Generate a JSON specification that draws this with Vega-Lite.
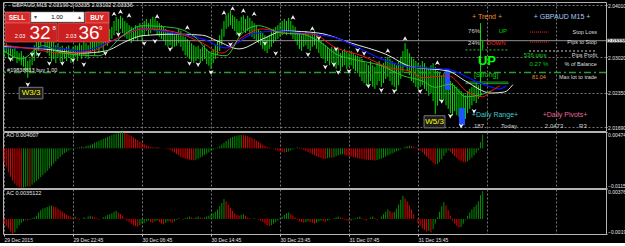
{
"$schema":"https://vega.github.io/schema/vega-lite/v6.json",
"background":"#000000",
"padding":{"left":1,"top":1,"right":0,"bottom":0},
"spacing":1,
"bounds":"flush",
"config":{"view":{"stroke":"#b4b4b4","strokeWidth":1},"font":"Liberation Sans","axis":{"domain":false,"labelOverlap":false,"labelSeparation":-200,"labelColor":"#e6e6e6","labelFont":"Liberation Sans","labelFontSize":5,"tickColor":"#c8c8c8","tickSize":1,"labelPadding":0.5,"gridColor":"#8c8c8c","gridDash":[2,2],"gridWidth":1,"gridOpacity":0.85}},
"datasets":{
"bars":[
{"i":0,"h":2.0325,"l":2.0303,"ao":-0.0040,"ac":-0.0006},
{"i":1,"h":2.0329,"l":2.0310,"ao":-0.0055,"ac":-0.0009},
{"i":2,"h":2.0322,"l":2.0299,"ao":-0.0070,"ac":-0.0012},
{"i":3,"h":2.0324,"l":2.0305,"ao":-0.0083,"ac":-0.0016},
{"i":4,"h":2.0318,"l":2.0295,"ao":-0.0094,"ac":-0.0019},
{"i":5,"h":2.0320,"l":2.0301,"ao":-0.0103,"ac":-0.0017},
{"i":6,"h":2.0314,"l":2.0291,"ao":-0.0109,"ac":-0.0012},
{"i":7,"h":2.0310,"l":2.0295,"ao":-0.0113,"ac":-0.0008},
{"i":8,"h":2.0314,"l":2.0287,"ao":-0.0115,"ac":-0.0005},
{"i":9,"h":2.0305,"l":2.0284,"ao":-0.0114,"ac":-0.0003},
{"i":10,"h":2.0303,"l":2.0276,"ao":-0.0112,"ac":-0.0001},
{"i":11,"h":2.0295,"l":2.0263,"ao":-0.0111,"ac":-0.0002},
{"i":12,"h":2.0299,"l":2.0272,"ao":-0.0112,"ac":-0.0001},
{"i":13,"h":2.0314,"l":2.0287,"ao":-0.0106,"ac":0.0001},
{"i":14,"h":2.0325,"l":2.0295,"ao":-0.0100,"ac":0.0002},
{"i":15,"h":2.0337,"l":2.0305,"ao":-0.0095,"ac":0.0004},
{"i":16,"h":2.0352,"l":2.0314,"ao":-0.0090,"ac":0.0008},
{"i":17,"h":2.0362,"l":2.0324,"ao":-0.0084,"ac":0.0011},
{"i":18,"h":2.0367,"l":2.0333,"ao":-0.0078,"ac":0.0013},
{"i":19,"h":2.0360,"l":2.0318,"ao":-0.0072,"ac":0.0014},
{"i":20,"h":2.0352,"l":2.0310,"ao":-0.0066,"ac":0.0015},
{"i":21,"h":2.0343,"l":2.0305,"ao":-0.0059,"ac":0.0016},
{"i":22,"h":2.0337,"l":2.0295,"ao":-0.0052,"ac":0.0017},
{"i":23,"h":2.0333,"l":2.0299,"ao":-0.0045,"ac":0.0016},
{"i":24,"h":2.0325,"l":2.0291,"ao":-0.0038,"ac":0.0015},
{"i":25,"h":2.0329,"l":2.0303,"ao":-0.0031,"ac":0.0013},
{"i":26,"h":2.0322,"l":2.0295,"ao":-0.0025,"ac":0.0011},
{"i":27,"h":2.0324,"l":2.0291,"ao":-0.0019,"ac":0.0009},
{"i":28,"h":2.0318,"l":2.0299,"ao":-0.0014,"ac":0.0007},
{"i":29,"h":2.0322,"l":2.0295,"ao":-0.0010,"ac":0.0005},
{"i":30,"h":2.0325,"l":2.0301,"ao":-0.0006,"ac":0.0004},
{"i":31,"h":2.0318,"l":2.0291,"ao":-0.0003,"ac":0.0003},
{"i":32,"h":2.0322,"l":2.0299,"ao":-0.0001,"ac":0.0002},
{"i":33,"h":2.0325,"l":2.0303,"ao":0.0001,"ac":0.0003},
{"i":34,"h":2.0324,"l":2.0295,"ao":0.0002,"ac":0.0001},
{"i":35,"h":2.0329,"l":2.0305,"ao":0.0003,"ac":-0.0001},
{"i":36,"h":2.0325,"l":2.0299,"ao":0.0005,"ac":0.0000},
{"i":37,"h":2.0333,"l":2.0306,"ao":0.0004,"ac":0.0002},
{"i":38,"h":2.0329,"l":2.0303,"ao":0.0006,"ac":0.0001},
{"i":39,"h":2.0325,"l":2.0299,"ao":0.0008,"ac":0.0003},
{"i":40,"h":2.0333,"l":2.0310,"ao":0.0010,"ac":0.0004},
{"i":41,"h":2.0337,"l":2.0314,"ao":0.0013,"ac":0.0003},
{"i":42,"h":2.0333,"l":2.0306,"ao":0.0016,"ac":0.0002},
{"i":43,"h":2.0341,"l":2.0318,"ao":0.0019,"ac":0.0001},
{"i":44,"h":2.0337,"l":2.0310,"ao":0.0022,"ac":-0.0001},
{"i":45,"h":2.0344,"l":2.0322,"ao":0.0025,"ac":0.0000},
{"i":46,"h":2.0341,"l":2.0314,"ao":0.0028,"ac":0.0002},
{"i":47,"h":2.0348,"l":2.0325,"ao":0.0030,"ac":0.0003},
{"i":48,"h":2.0352,"l":2.0324,"ao":0.0033,"ac":0.0005},
{"i":49,"h":2.0356,"l":2.0333,"ao":0.0036,"ac":0.0006},
{"i":50,"h":2.0360,"l":2.0337,"ao":0.0039,"ac":0.0007},
{"i":51,"h":2.0371,"l":2.0344,"ao":0.0041,"ac":0.0009},
{"i":52,"h":2.0379,"l":2.0352,"ao":0.0043,"ac":0.0010},
{"i":53,"h":2.0375,"l":2.0348,"ao":0.0045,"ac":0.0008},
{"i":54,"h":2.0381,"l":2.0356,"ao":0.0046,"ac":0.0006},
{"i":55,"h":2.0377,"l":2.0348,"ao":0.0047,"ac":0.0004},
{"i":56,"h":2.0371,"l":2.0341,"ao":0.0045,"ac":0.0001},
{"i":57,"h":2.0367,"l":2.0337,"ao":0.0042,"ac":-0.0002},
{"i":58,"h":2.0363,"l":2.0333,"ao":0.0039,"ac":-0.0004},
{"i":59,"h":2.0360,"l":2.0329,"ao":0.0036,"ac":-0.0006},
{"i":60,"h":2.0356,"l":2.0333,"ao":0.0032,"ac":-0.0008},
{"i":61,"h":2.0363,"l":2.0337,"ao":0.0028,"ac":-0.0009},
{"i":62,"h":2.0360,"l":2.0333,"ao":0.0024,"ac":-0.0010},
{"i":63,"h":2.0367,"l":2.0341,"ao":0.0020,"ac":-0.0008},
{"i":64,"h":2.0362,"l":2.0333,"ao":0.0016,"ac":-0.0006},
{"i":65,"h":2.0371,"l":2.0344,"ao":0.0012,"ac":-0.0005},
{"i":66,"h":2.0375,"l":2.0352,"ao":0.0009,"ac":-0.0003},
{"i":67,"h":2.0367,"l":2.0344,"ao":0.0006,"ac":-0.0002},
{"i":68,"h":2.0375,"l":2.0348,"ao":0.0004,"ac":-0.0004},
{"i":69,"h":2.0379,"l":2.0356,"ao":0.0003,"ac":-0.0005},
{"i":70,"h":2.0375,"l":2.0352,"ao":0.0002,"ac":-0.0003},
{"i":71,"h":2.0371,"l":2.0344,"ao":0.0003,"ac":-0.0002},
{"i":72,"h":2.0367,"l":2.0341,"ao":0.0002,"ac":-0.0004},
{"i":73,"h":2.0363,"l":2.0337,"ao":0.0001,"ac":-0.0006},
{"i":74,"h":2.0360,"l":2.0333,"ao":0.0000,"ac":-0.0007},
{"i":75,"h":2.0356,"l":2.0325,"ao":-0.0001,"ac":-0.0005},
{"i":76,"h":2.0352,"l":2.0322,"ao":-0.0002,"ac":-0.0003},
{"i":77,"h":2.0348,"l":2.0325,"ao":-0.0005,"ac":-0.0004},
{"i":78,"h":2.0352,"l":2.0318,"ao":-0.0009,"ac":-0.0005},
{"i":79,"h":2.0344,"l":2.0322,"ao":-0.0013,"ac":-0.0003},
{"i":80,"h":2.0348,"l":2.0324,"ao":-0.0017,"ac":-0.0001},
{"i":81,"h":2.0356,"l":2.0329,"ao":-0.0021,"ac":0.0001},
{"i":82,"h":2.0352,"l":2.0322,"ao":-0.0025,"ac":0.0000},
{"i":83,"h":2.0344,"l":2.0314,"ao":-0.0028,"ac":-0.0001},
{"i":84,"h":2.0341,"l":2.0306,"ao":-0.0030,"ac":0.0001},
{"i":85,"h":2.0337,"l":2.0303,"ao":-0.0032,"ac":0.0002},
{"i":86,"h":2.0333,"l":2.0299,"ao":-0.0033,"ac":0.0003},
{"i":87,"h":2.0329,"l":2.0295,"ao":-0.0034,"ac":0.0002},
{"i":88,"h":2.0325,"l":2.0291,"ao":-0.0035,"ac":0.0001},
{"i":89,"h":2.0322,"l":2.0295,"ao":-0.0033,"ac":0.0002},
{"i":90,"h":2.0324,"l":2.0299,"ao":-0.0030,"ac":0.0003},
{"i":91,"h":2.0318,"l":2.0291,"ao":-0.0027,"ac":0.0002},
{"i":92,"h":2.0322,"l":2.0295,"ao":-0.0024,"ac":0.0001},
{"i":93,"h":2.0325,"l":2.0299,"ao":-0.0020,"ac":0.0002},
{"i":94,"h":2.0318,"l":2.0289,"ao":-0.0016,"ac":0.0003},
{"i":95,"h":2.0314,"l":2.0286,"ao":-0.0012,"ac":0.0004},
{"i":96,"h":2.0310,"l":2.0280,"ao":-0.0008,"ac":0.0005},
{"i":97,"h":2.0318,"l":2.0291,"ao":-0.0004,"ac":0.0007},
{"i":98,"h":2.0325,"l":2.0299,"ao":-0.0001,"ac":0.0009},
{"i":99,"h":2.0333,"l":2.0306,"ao":0.0002,"ac":0.0012},
{"i":100,"h":2.0344,"l":2.0314,"ao":0.0006,"ac":0.0016},
{"i":101,"h":2.0356,"l":2.0325,"ao":0.0011,"ac":0.0020},
{"i":102,"h":2.0371,"l":2.0341,"ao":0.0016,"ac":0.0025},
{"i":103,"h":2.0382,"l":2.0356,"ao":0.0021,"ac":0.0022},
{"i":104,"h":2.0386,"l":2.0360,"ao":0.0026,"ac":0.0018},
{"i":105,"h":2.0390,"l":2.0363,"ao":0.0030,"ac":0.0014},
{"i":106,"h":2.0382,"l":2.0356,"ao":0.0033,"ac":0.0010},
{"i":107,"h":2.0379,"l":2.0352,"ao":0.0035,"ac":0.0007},
{"i":108,"h":2.0375,"l":2.0344,"ao":0.0037,"ac":0.0005},
{"i":109,"h":2.0371,"l":2.0343,"ao":0.0038,"ac":0.0004},
{"i":110,"h":2.0379,"l":2.0348,"ao":0.0039,"ac":0.0005},
{"i":111,"h":2.0382,"l":2.0352,"ao":0.0038,"ac":0.0006},
{"i":112,"h":2.0375,"l":2.0348,"ao":0.0037,"ac":0.0004},
{"i":113,"h":2.0381,"l":2.0352,"ao":0.0035,"ac":0.0002},
{"i":114,"h":2.0377,"l":2.0344,"ao":0.0033,"ac":0.0001},
{"i":115,"h":2.0371,"l":2.0341,"ao":0.0030,"ac":0.0000},
{"i":116,"h":2.0367,"l":2.0337,"ao":0.0027,"ac":0.0001},
{"i":117,"h":2.0363,"l":2.0333,"ao":0.0023,"ac":0.0000},
{"i":118,"h":2.0356,"l":2.0329,"ao":0.0019,"ac":-0.0001},
{"i":119,"h":2.0352,"l":2.0325,"ao":0.0015,"ac":-0.0002},
{"i":120,"h":2.0348,"l":2.0318,"ao":0.0011,"ac":-0.0004},
{"i":121,"h":2.0344,"l":2.0314,"ao":0.0007,"ac":-0.0006},
{"i":122,"h":2.0341,"l":2.0310,"ao":0.0004,"ac":-0.0008},
{"i":123,"h":2.0344,"l":2.0318,"ao":0.0002,"ac":-0.0009},
{"i":124,"h":2.0352,"l":2.0322,"ao":0.0001,"ac":-0.0008},
{"i":125,"h":2.0356,"l":2.0329,"ao":-0.0001,"ac":-0.0006},
{"i":126,"h":2.0360,"l":2.0333,"ao":-0.0004,"ac":-0.0004},
{"i":127,"h":2.0363,"l":2.0337,"ao":-0.0007,"ac":-0.0002},
{"i":128,"h":2.0367,"l":2.0341,"ao":-0.0009,"ac":0.0001},
{"i":129,"h":2.0371,"l":2.0344,"ao":-0.0011,"ac":0.0003},
{"i":130,"h":2.0375,"l":2.0348,"ao":-0.0012,"ac":0.0005},
{"i":131,"h":2.0371,"l":2.0344,"ao":-0.0011,"ac":0.0007},
{"i":132,"h":2.0377,"l":2.0352,"ao":-0.0009,"ac":0.0008},
{"i":133,"h":2.0371,"l":2.0344,"ao":-0.0006,"ac":0.0006},
{"i":134,"h":2.0363,"l":2.0337,"ao":-0.0003,"ac":0.0004},
{"i":135,"h":2.0360,"l":2.0333,"ao":0.0001,"ac":0.0002},
{"i":136,"h":2.0352,"l":2.0325,"ao":0.0003,"ac":-0.0001},
{"i":137,"h":2.0348,"l":2.0318,"ao":0.0002,"ac":-0.0003},
{"i":138,"h":2.0344,"l":2.0314,"ao":-0.0002,"ac":-0.0004},
{"i":139,"h":2.0348,"l":2.0322,"ao":-0.0005,"ac":-0.0005},
{"i":140,"h":2.0352,"l":2.0325,"ao":-0.0008,"ac":-0.0004},
{"i":141,"h":2.0348,"l":2.0318,"ao":-0.0011,"ac":-0.0003},
{"i":142,"h":2.0344,"l":2.0314,"ao":-0.0014,"ac":-0.0004},
{"i":143,"h":2.0348,"l":2.0322,"ao":-0.0017,"ac":-0.0005},
{"i":144,"h":2.0352,"l":2.0325,"ao":-0.0020,"ac":-0.0006},
{"i":145,"h":2.0344,"l":2.0318,"ao":-0.0023,"ac":-0.0005},
{"i":146,"h":2.0337,"l":2.0310,"ao":-0.0026,"ac":-0.0003},
{"i":147,"h":2.0333,"l":2.0303,"ao":-0.0028,"ac":-0.0002},
{"i":148,"h":2.0329,"l":2.0299,"ao":-0.0030,"ac":-0.0003},
{"i":149,"h":2.0325,"l":2.0291,"ao":-0.0031,"ac":-0.0004},
{"i":150,"h":2.0322,"l":2.0295,"ao":-0.0029,"ac":-0.0002},
{"i":151,"h":2.0318,"l":2.0287,"ao":-0.0027,"ac":-0.0001},
{"i":152,"h":2.0322,"l":2.0291,"ao":-0.0028,"ac":0.0000},
{"i":153,"h":2.0318,"l":2.0284,"ao":-0.0026,"ac":0.0001},
{"i":154,"h":2.0314,"l":2.0280,"ao":-0.0023,"ac":0.0002},
{"i":155,"h":2.0318,"l":2.0287,"ao":-0.0020,"ac":0.0003},
{"i":156,"h":2.0310,"l":2.0276,"ao":-0.0018,"ac":0.0002},
{"i":157,"h":2.0314,"l":2.0284,"ao":-0.0017,"ac":0.0001},
{"i":158,"h":2.0318,"l":2.0287,"ao":-0.0019,"ac":-0.0001},
{"i":159,"h":2.0314,"l":2.0280,"ao":-0.0021,"ac":-0.0002},
{"i":160,"h":2.0310,"l":2.0284,"ao":-0.0023,"ac":-0.0003},
{"i":161,"h":2.0314,"l":2.0287,"ao":-0.0024,"ac":-0.0002},
{"i":162,"h":2.0310,"l":2.0280,"ao":-0.0026,"ac":-0.0001},
{"i":163,"h":2.0306,"l":2.0276,"ao":-0.0027,"ac":0.0001},
{"i":164,"h":2.0305,"l":2.0272,"ao":-0.0029,"ac":0.0002},
{"i":165,"h":2.0303,"l":2.0265,"ao":-0.0030,"ac":0.0003},
{"i":166,"h":2.0299,"l":2.0257,"ao":-0.0031,"ac":0.0001},
{"i":167,"h":2.0295,"l":2.0253,"ao":-0.0032,"ac":-0.0001},
{"i":168,"h":2.0291,"l":2.0248,"ao":-0.0033,"ac":-0.0002},
{"i":169,"h":2.0287,"l":2.0249,"ao":-0.00335,"ac":0.0000},
{"i":170,"h":2.0295,"l":2.0257,"ao":-0.0034,"ac":0.0002},
{"i":171,"h":2.0287,"l":2.0246,"ao":-0.0035,"ac":0.0003},
{"i":172,"h":2.0284,"l":2.0242,"ao":-0.00355,"ac":0.0001},
{"i":173,"h":2.0291,"l":2.0249,"ao":-0.0034,"ac":-0.0001},
{"i":174,"h":2.0295,"l":2.0257,"ao":-0.0032,"ac":0.0000},
{"i":175,"h":2.0287,"l":2.0246,"ao":-0.0030,"ac":0.0003},
{"i":176,"h":2.0291,"l":2.0253,"ao":-0.0027,"ac":0.0006},
{"i":177,"h":2.0299,"l":2.0261,"ao":-0.0024,"ac":0.0009},
{"i":178,"h":2.0303,"l":2.0265,"ao":-0.0021,"ac":0.0012},
{"i":179,"h":2.0299,"l":2.0257,"ao":-0.0018,"ac":0.0010},
{"i":180,"h":2.0295,"l":2.0249,"ao":-0.0015,"ac":0.0008},
{"i":181,"h":2.0291,"l":2.0246,"ao":-0.0012,"ac":0.0009},
{"i":182,"h":2.0287,"l":2.0238,"ao":-0.0009,"ac":0.0013},
{"i":183,"h":2.0295,"l":2.0249,"ao":-0.0006,"ac":0.0018},
{"i":184,"h":2.0303,"l":2.0261,"ao":-0.0003,"ac":0.0024},
{"i":185,"h":2.0314,"l":2.0272,"ao":0.0001,"ac":0.0029},
{"i":186,"h":2.0329,"l":2.0284,"ao":0.0004,"ac":0.0026},
{"i":187,"h":2.0318,"l":2.0276,"ao":0.0006,"ac":0.0022},
{"i":188,"h":2.0310,"l":2.0268,"ao":0.0008,"ac":0.0017},
{"i":189,"h":2.0303,"l":2.0257,"ao":0.0007,"ac":0.0012},
{"i":190,"h":2.0299,"l":2.0253,"ao":0.0005,"ac":0.0006},
{"i":191,"h":2.0295,"l":2.0246,"ao":0.0002,"ac":0.0000},
{"i":192,"h":2.0291,"l":2.0242,"ao":-0.0002,"ac":-0.0005},
{"i":193,"h":2.0287,"l":2.0246,"ao":-0.0007,"ac":-0.0009},
{"i":194,"h":2.0295,"l":2.0249,"ao":-0.0012,"ac":-0.0012},
{"i":195,"h":2.0291,"l":2.0242,"ao":-0.0018,"ac":-0.0014},
{"i":196,"h":2.0284,"l":2.0238,"ao":-0.0024,"ac":-0.0016},
{"i":197,"h":2.0280,"l":2.0229,"ao":-0.0030,"ac":-0.0015},
{"i":198,"h":2.0287,"l":2.0234,"ao":-0.0036,"ac":-0.0017},
{"i":199,"h":2.0291,"l":2.0219,"ao":-0.0042,"ac":-0.0013},
{"i":200,"h":2.0284,"l":2.0194,"ao":-0.0047,"ac":-0.0006},
{"i":201,"h":2.0276,"l":2.0210,"ao":-0.0045,"ac":0.0002},
{"i":202,"h":2.0272,"l":2.0219,"ao":-0.0040,"ac":0.0009},
{"i":203,"h":2.0268,"l":2.0215,"ao":-0.0032,"ac":0.0016},
{"i":204,"h":2.0272,"l":2.0223,"ao":-0.0022,"ac":0.0021},
{"i":205,"h":2.0265,"l":2.0211,"ao":-0.0013,"ac":0.0017},
{"i":206,"h":2.0261,"l":2.0204,"ao":-0.0006,"ac":0.0011},
{"i":207,"h":2.0257,"l":2.0196,"ao":-0.0010,"ac":0.0004},
{"i":208,"h":2.0253,"l":2.0191,"ao":-0.0016,"ac":-0.0002},
{"i":209,"h":2.0249,"l":2.0200,"ao":-0.0022,"ac":-0.0006},
{"i":210,"h":2.0246,"l":2.0192,"ao":-0.0028,"ac":-0.0009},
{"i":211,"h":2.0242,"l":2.0189,"ao":-0.0033,"ac":-0.0011},
{"i":212,"h":2.0238,"l":2.0181,"ao":-0.0037,"ac":-0.0010},
{"i":213,"h":2.0234,"l":2.0177,"ao":-0.0040,"ac":-0.0006},
{"i":214,"h":2.0230,"l":2.0185,"ao":-0.0041,"ac":-0.0001},
{"i":215,"h":2.0238,"l":2.0196,"ao":-0.0038,"ac":0.0004},
{"i":216,"h":2.0242,"l":2.0204,"ao":-0.0033,"ac":0.0008},
{"i":217,"h":2.0246,"l":2.0211,"ao":-0.0027,"ac":0.0012},
{"i":218,"h":2.0249,"l":2.0219,"ao":-0.0020,"ac":0.0015},
{"i":219,"h":2.0253,"l":2.0215,"ao":-0.0013,"ac":0.0018},
{"i":220,"h":2.0249,"l":2.0223,"ao":-0.0005,"ac":0.0022},
{"i":221,"h":2.0367,"l":2.0229,"ao":0.0018,"ac":0.0030},
{"i":222,"h":2.0333,"l":2.0318,"ao":0.0040,"ac":0.0035}
],
"ma":[
{"s":"w","i":0,"p":2.0322},{"s":"w","i":18,"p":2.0318},{"s":"w","i":36,"p":2.0310},{"s":"w","i":47,"p":2.0314},{"s":"w","i":57,"p":2.0333},{"s":"w","i":64,"p":2.0343},{"s":"w","i":80,"p":2.0346},{"s":"w","i":92,"p":2.0344},{"s":"w","i":99,"p":2.0333},{"s":"w","i":109,"p":2.0318},{"s":"w","i":120,"p":2.0337},{"s":"w","i":130,"p":2.0352},{"s":"w","i":146,"p":2.0348},{"s":"w","i":161,"p":2.0329},{"s":"w","i":177,"p":2.0308},{"s":"w","i":189,"p":2.0284},{"s":"w","i":206,"p":2.0276},{"s":"w","i":214,"p":2.0257},{"s":"w","i":226,"p":2.0234},{"s":"w","i":232,"p":2.0236},{"s":"w","i":236,"p":2.0250},
{"s":"b","i":0,"p":2.0320},{"s":"b","i":24,"p":2.0320},{"s":"b","i":36,"p":2.0314},{"s":"b","i":50,"p":2.0333},{"s":"b","i":64,"p":2.0356},{"s":"b","i":79,"p":2.0348},{"s":"b","i":92,"p":2.0337},{"s":"b","i":103,"p":2.0320},{"s":"b","i":115,"p":2.0346},{"s":"b","i":126,"p":2.0352},{"s":"b","i":143,"p":2.0346},{"s":"b","i":154,"p":2.0339},{"s":"b","i":161,"p":2.0327},{"s":"b","i":175,"p":2.0299},{"s":"b","i":185,"p":2.0286},{"s":"b","i":195,"p":2.0282},{"s":"b","i":205,"p":2.0280},{"s":"b","i":222,"p":2.0251},{"s":"b","i":230,"p":2.0242},{"s":"b","i":233,"p":2.0248},
{"s":"r","i":0,"p":2.0325},{"s":"r","i":13,"p":2.0318},{"s":"r","i":27,"p":2.0310},{"s":"r","i":41,"p":2.0314},{"s":"r","i":50,"p":2.0333},{"s":"r","i":65,"p":2.0356},{"s":"r","i":77,"p":2.0352},{"s":"r","i":92,"p":2.0329},{"s":"r","i":101,"p":2.0310},{"s":"r","i":110,"p":2.0339},{"s":"r","i":120,"p":2.0356},{"s":"r","i":130,"p":2.0348},{"s":"r","i":143,"p":2.0346},{"s":"r","i":154,"p":2.0320},{"s":"r","i":166,"p":2.0305},{"s":"r","i":179,"p":2.0282},{"s":"r","i":188,"p":2.0276},{"s":"r","i":194,"p":2.0263},{"s":"r","i":206,"p":2.0267},{"s":"r","i":215,"p":2.0236},{"s":"r","i":222,"p":2.0227},{"s":"r","i":226,"p":2.0238},{"s":"r","i":230,"p":2.0248},
{"s":"g","i":0,"p":2.0314},{"s":"g","i":8,"p":2.0299},{"s":"g","i":18,"p":2.0324},{"s":"g","i":27,"p":2.0310},{"s":"g","i":44,"p":2.0305},{"s":"g","i":55,"p":2.0343},{"s":"g","i":64,"p":2.0362},{"s":"g","i":79,"p":2.0358},{"s":"g","i":89,"p":2.0339},{"s":"g","i":96,"p":2.0310},{"s":"g","i":103,"p":2.0305},{"s":"g","i":110,"p":2.0346},{"s":"g","i":118,"p":2.0362},{"s":"g","i":129,"p":2.0348},{"s":"g","i":138,"p":2.0346},{"s":"g","i":148,"p":2.0327},{"s":"g","i":154,"p":2.0308},{"s":"g","i":161,"p":2.0299},{"s":"g","i":175,"p":2.0286},{"s":"g","i":185,"p":2.0267},{"s":"g","i":194,"p":2.0257},{"s":"g","i":200,"p":2.0245},{"s":"g","i":207,"p":2.0251},{"s":"g","i":214,"p":2.0227},{"s":"g","i":222,"p":2.0232},{"s":"g","i":226,"p":2.0238}
],
"fr":[
{"d":"up","i":51,"p":2.0384},{"d":"up","i":54,"p":2.0388},{"d":"up","i":58,"p":2.0381},{"d":"up","i":71,"p":2.0379},{"d":"up","i":85,"p":2.0358},{"d":"up","i":102,"p":2.0386},{"d":"up","i":106,"p":2.0394},{"d":"up","i":111,"p":2.0390},{"d":"up","i":116,"p":2.0384},{"d":"up","i":134,"p":2.0377},{"d":"up","i":143,"p":2.0356},{"d":"up","i":178,"p":2.0314},{"d":"up","i":186,"p":2.0337},{"d":"up","i":201,"p":2.0291},
{"d":"dn","i":3,"p":2.0299},{"d":"dn","i":11,"p":2.0251},{"d":"dn","i":13,"p":2.0308},{"d":"dn","i":16,"p":2.0308},{"d":"dn","i":21,"p":2.0291},{"d":"dn","i":27,"p":2.0291},{"d":"dn","i":32,"p":2.0297},{"d":"dn","i":37,"p":2.0289},{"d":"dn","i":47,"p":2.0310},{"d":"dn","i":53,"p":2.0346},{"d":"dn","i":65,"p":2.0329},{"d":"dn","i":70,"p":2.0333},{"d":"dn","i":77,"p":2.0318},{"d":"dn","i":86,"p":2.0291},{"d":"dn","i":90,"p":2.0289},{"d":"dn","i":96,"p":2.0274},{"d":"dn","i":105,"p":2.0327},{"d":"dn","i":109,"p":2.0346},{"d":"dn","i":121,"p":2.0329},{"d":"dn","i":126,"p":2.0310},{"d":"dn","i":141,"p":2.0308},{"d":"dn","i":146,"p":2.0339},{"d":"dn","i":149,"p":2.0284},{"d":"dn","i":153,"p":2.0289},{"d":"dn","i":154,"p":2.0318},{"d":"dn","i":155,"p":2.0274},{"d":"dn","i":160,"p":2.0276},{"d":"dn","i":164,"p":2.0316},{"d":"dn","i":167,"p":2.0310},{"d":"dn","i":169,"p":2.0248},{"d":"dn","i":175,"p":2.0240},{"d":"dn","i":181,"p":2.0238},{"d":"dn","i":193,"p":2.0238},{"d":"dn","i":203,"p":2.0219},{"d":"dn","i":207,"p":2.0191},{"d":"dn","i":212,"p":2.0172},{"d":"dn","i":218,"p":2.0200}
],
"levels":[{"k":"trade","p":2.0273},{"k":"bid","p":2.03336}],
"boxes":[
{"k":"btn","x1":0.5,"x2":12.1,"p1":2.0388,"p2":2.0367},
{"k":"btn","x1":37.6,"x2":48.7,"p1":2.0388,"p2":2.0367},
{"k":"lot","x1":12.5,"x2":37.1,"p1":2.0388,"p2":2.0369},
{"k":"pbox","x1":0.5,"x2":24.6,"p1":2.0367,"p2":2.0331},
{"k":"pbox","x1":25.0,"x2":48.7,"p1":2.0367,"p2":2.0331},
{"k":"wave","x1":7,"x2":18,"p1":2.0245,"p2":2.0223},
{"k":"wave","x1":194.8,"x2":204.5,"p1":2.0191,"p2":2.0168},
{"k":"blue","x1":204.5,"x2":206.8,"p1":2.0280,"p2":2.0240},
{"k":"blue","x1":211,"x2":213.8,"p1":2.0206,"p2":2.0173}
],
"segs":[
{"k":"rd","x1":244,"x2":252.5,"p":2.0350},
{"k":"rd","x1":244,"x2":252.5,"p":2.0331},
{"k":"gd","x1":214,"x2":234,"p":2.0316},
{"k":"wd","x1":243.5,"x2":275,"p":2.0314},
{"k":"gl","x1":214,"x2":234,"p":2.0255},
{"k":"gl","x1":214,"x2":234,"p":2.0252}
],
"txt":[
{"k":"hdr","i":3.7,"p":2.0401,"t":"GBPAUD,M15  2.03199 2.03335 2.03192 2.03336"},
{"k":"ord","i":1.4,"p":2.0278,"t":"#19838813 buy 1.00"},
{"k":"btn","i":6.0,"p":2.03775,"t":"SELL"},
{"k":"btn","i":43.1,"p":2.03775,"t":"BUY"},
{"k":"lot","i":24.6,"p":2.03785,"t":"1.00"},
{"k":"arr","i":14.6,"p":2.03785,"t":"▾"},
{"k":"arr","i":35.0,"p":2.03785,"t":"▴"},
{"k":"sm","i":7.4,"p":2.0343,"t":"2.03"},
{"k":"big","i":16.7,"p":2.0348,"t":"32"},
{"k":"sup","i":23.2,"p":2.0358,"t":"8"},
{"k":"sm","i":31.1,"p":2.0343,"t":"2.03"},
{"k":"big","i":39.4,"p":2.0348,"t":"36"},
{"k":"sup","i":44.8,"p":2.0358,"t":"9"},
{"k":"wave","i":12.5,"p":2.0234,"t":"W3/3"},
{"k":"wave","i":199.7,"p":2.0179,"t":"W5/3"},
{"k":"org","i":224,"p":2.0379,"t":"+   Trend   +"},
{"k":"wht","i":218,"p":2.0352,"t":"76%"},
{"k":"grn","i":231.4,"p":2.0352,"t":"UP"},
{"k":"wht","i":218,"p":2.0329,"t":"24%"},
{"k":"red","i":228.2,"p":2.0329,"t":"DOWN"},
{"k":"bigup","i":224,"p":2.0295,"t":"UP"},
{"k":"grn7","i":223.6,"p":2.0268,"t":"[Strong]"},
{"k":"ttl","i":258.8,"p":2.0379,"t":"+  GBPAUD  M15  +"},
{"k":"lbl","i":275,"p":2.0350,"t":"Stop Loss"},
{"k":"lbl","i":275,"p":2.0331,"t":"Pips to Stop"},
{"k":"grn","i":246.3,"p":2.0306,"t":"536 pips"},
{"k":"lbl","i":275,"p":2.0306,"t":"Pips Profit"},
{"k":"grn","i":248.1,"p":2.0289,"t":"0.27 %"},
{"k":"lbl","i":275,"p":2.0289,"t":"% of Balance"},
{"k":"org2","i":248.1,"p":2.0265,"t":"81.04"},
{"k":"lbl","i":275,"p":2.0265,"t":"Max lot to trade"},
{"k":"cyan","i":227.7,"p":2.0192,"t":"+Daily Range+"},
{"k":"wht","i":220.3,"p":2.0172,"t":"187"},
{"k":"wht","i":234.2,"p":2.0172,"t":"Today"},
{"k":"pink","i":260.2,"p":2.0192,"t":"+Daily Pivots+"},
{"k":"wht","i":255.1,"p":2.0172,"t":"2.0473"},
{"k":"wht","i":268.5,"p":2.0172,"t":"R3"}
],
"ind":[{"w":"ao","i":1,"v":0.0039,"t":"AO 0.004007"},{"w":"ac","i":1,"v":0.00326,"t":"AC 0.0035122"}]
},
"vconcat":[
{"width":603,"height":129,
"layer":[
{"data":{"name":"bars"},"mark":{"type":"rule","color":"#00e000","strokeWidth":1},"encoding":{
"x":{"field":"i","type":"quantitative","scale":{"domain":[-0.5,279.2],"nice":false,"zero":false},"axis":{"orient":"bottom","values":[0,8,16,24,32,40,48,56,64,72,80,88,96,104,112,120,128,136,144,152,160,168,176,184,192,200,208,216,224,232,240,248,256,264,272],"labels":false,"ticks":false,"grid":true,"title":null}},
"y":{"field":"l","type":"quantitative","scale":{"domain":[2.0162,2.04071],"nice":false,"zero":false},"axis":{"orient":"right","values":[2.0169,2.0202,2.0235,2.0269,2.0302,2.0368,2.0401],"format":".5f","grid":true,"labelOverlap":false,"labelSeparation":-200,"title":null}},
"y2":{"field":"h"}}},
{"data":{"name":"levels"},"transform":[{"filter":"datum.k=='trade'"}],"mark":{"type":"rule","color":"#2e9a2e","strokeWidth":1.5,"strokeDash":[7,3,2,3]},"encoding":{"y":{"field":"p","type":"quantitative","scale":{"domain":[2.0162,2.04071],"nice":false,"zero":false},"axis":{"title":null}}}},
{"data":{"name":"levels"},"transform":[{"filter":"datum.k=='bid'"}],"mark":{"type":"rule","color":"#b4b4b4","strokeWidth":0.8},"encoding":{"y":{"field":"p","type":"quantitative","scale":{"domain":[2.0162,2.04071],"nice":false,"zero":false},"axis":{"title":null}}}},
{"data":{"name":"boxes"},"transform":[{"filter":"datum.k=='blue'"}],"mark":{"type":"rect","color":"#2050ff"},"encoding":{"x":{"field":"x1","type":"quantitative","scale":{"domain":[-0.5,279.2],"nice":false,"zero":false},"axis":{"title":null}},"x2":{"field":"x2"},"y":{"field":"p1","type":"quantitative","scale":{"domain":[2.0162,2.04071],"nice":false,"zero":false},"axis":{"title":null}},"y2":{"field":"p2"}}},
{"data":{"name":"segs"},"transform":[{"filter":"datum.k=='gl'"}],"mark":{"type":"rule","color":"#30c030","strokeWidth":0.8},"encoding":{"x":{"field":"x1","type":"quantitative","scale":{"domain":[-0.5,279.2],"nice":false,"zero":false},"axis":{"title":null}},"x2":{"field":"x2"},"y":{"field":"p","type":"quantitative","scale":{"domain":[2.0162,2.04071],"nice":false,"zero":false},"axis":{"title":null}}}},
{"data":{"name":"ma"},"transform":[{"filter":"datum.s=='w'"}],"mark":{"type":"line","color":"#e6e6e6","strokeWidth":1,"interpolate":"monotone"},"encoding":{"x":{"field":"i","type":"quantitative","scale":{"domain":[-0.5,279.2],"nice":false,"zero":false},"axis":{"title":null}},"y":{"field":"p","type":"quantitative","scale":{"domain":[2.0162,2.04071],"nice":false,"zero":false},"axis":{"title":null}}}},
{"data":{"name":"ma"},"transform":[{"filter":"datum.s=='b'"}],"mark":{"type":"line","color":"#1010ff","strokeWidth":1.2,"interpolate":"monotone"},"encoding":{"x":{"field":"i","type":"quantitative","scale":{"domain":[-0.5,279.2],"nice":false,"zero":false},"axis":{"title":null}},"y":{"field":"p","type":"quantitative","scale":{"domain":[2.0162,2.04071],"nice":false,"zero":false},"axis":{"title":null}}}},
{"data":{"name":"ma"},"transform":[{"filter":"datum.s=='r'"}],"mark":{"type":"line","color":"#ff1010","strokeWidth":1,"interpolate":"monotone"},"encoding":{"x":{"field":"i","type":"quantitative","scale":{"domain":[-0.5,279.2],"nice":false,"zero":false},"axis":{"title":null}},"y":{"field":"p","type":"quantitative","scale":{"domain":[2.0162,2.04071],"nice":false,"zero":false},"axis":{"title":null}}}},
{"data":{"name":"ma"},"transform":[{"filter":"datum.s=='g'"}],"mark":{"type":"line","color":"#30c030","strokeWidth":1,"interpolate":"monotone"},"encoding":{"x":{"field":"i","type":"quantitative","scale":{"domain":[-0.5,279.2],"nice":false,"zero":false},"axis":{"title":null}},"y":{"field":"p","type":"quantitative","scale":{"domain":[2.0162,2.04071],"nice":false,"zero":false},"axis":{"title":null}}}},
{"data":{"name":"fr"},"mark":{"type":"point","filled":true,"size":30,"color":"#f0f0f0","opacity":1},"encoding":{"x":{"field":"i","type":"quantitative","scale":{"domain":[-0.5,279.2],"nice":false,"zero":false},"axis":{"title":null}},"y":{"field":"p","type":"quantitative","scale":{"domain":[2.0162,2.04071],"nice":false,"zero":false},"axis":{"title":null}},"shape":{"field":"d","type":"nominal","scale":{"domain":["up","dn"],"range":["M0,-1L0.9,0.7L0,0.25L-0.9,0.7Z","M0,1L0.9,-0.7L0,-0.25L-0.9,-0.7Z"]},"legend":null}}},
{"data":{"name":"segs"},"transform":[{"filter":"datum.k=='rd'"}],"mark":{"type":"rule","color":"#ff3030","strokeWidth":1,"strokeDash":[1,1]},"encoding":{"x":{"field":"x1","type":"quantitative","scale":{"domain":[-0.5,279.2],"nice":false,"zero":false},"axis":{"title":null}},"x2":{"field":"x2"},"y":{"field":"p","type":"quantitative","scale":{"domain":[2.0162,2.04071],"nice":false,"zero":false},"axis":{"title":null}}}},
{"data":{"name":"segs"},"transform":[{"filter":"datum.k=='wd'"}],"mark":{"type":"rule","color":"#c8c8c8","strokeWidth":1,"strokeDash":[2,2]},"encoding":{"x":{"field":"x1","type":"quantitative","scale":{"domain":[-0.5,279.2],"nice":false,"zero":false},"axis":{"title":null}},"x2":{"field":"x2"},"y":{"field":"p","type":"quantitative","scale":{"domain":[2.0162,2.04071],"nice":false,"zero":false},"axis":{"title":null}}}},
{"data":{"name":"segs"},"transform":[{"filter":"datum.k=='gd'"}],"mark":{"type":"rule","color":"#30c030","strokeWidth":1,"strokeDash":[2,2]},"encoding":{"x":{"field":"x1","type":"quantitative","scale":{"domain":[-0.5,279.2],"nice":false,"zero":false},"axis":{"title":null}},"x2":{"field":"x2"},"y":{"field":"p","type":"quantitative","scale":{"domain":[2.0162,2.04071],"nice":false,"zero":false},"axis":{"title":null}}}},
{"data":{"name":"boxes"},"transform":[{"filter":"datum.k=='btn'"}],"mark":{"type":"rect","fill":"#d92b2b","stroke":"#f09090","strokeWidth":0.6},"encoding":{"x":{"field":"x1","type":"quantitative","scale":{"domain":[-0.5,279.2],"nice":false,"zero":false},"axis":{"title":null}},"x2":{"field":"x2"},"y":{"field":"p1","type":"quantitative","scale":{"domain":[2.0162,2.04071],"nice":false,"zero":false},"axis":{"title":null}},"y2":{"field":"p2"}}},
{"data":{"name":"boxes"},"transform":[{"filter":"datum.k=='pbox'"}],"mark":{"type":"rect","fill":"#cc1f1f","stroke":"#e86060","strokeWidth":0.6},"encoding":{"x":{"field":"x1","type":"quantitative","scale":{"domain":[-0.5,279.2],"nice":false,"zero":false},"axis":{"title":null}},"x2":{"field":"x2"},"y":{"field":"p1","type":"quantitative","scale":{"domain":[2.0162,2.04071],"nice":false,"zero":false},"axis":{"title":null}},"y2":{"field":"p2"}}},
{"data":{"name":"boxes"},"transform":[{"filter":"datum.k=='lot'"}],"mark":{"type":"rect","fill":"#ffffff","stroke":"#a0a0a0","strokeWidth":0.6},"encoding":{"x":{"field":"x1","type":"quantitative","scale":{"domain":[-0.5,279.2],"nice":false,"zero":false},"axis":{"title":null}},"x2":{"field":"x2"},"y":{"field":"p1","type":"quantitative","scale":{"domain":[2.0162,2.04071],"nice":false,"zero":false},"axis":{"title":null}},"y2":{"field":"p2"}}},
{"data":{"name":"boxes"},"transform":[{"filter":"datum.k=='wave'"}],"mark":{"type":"rect","fill":"#1c1c1c","stroke":"#909090","strokeWidth":0.8},"encoding":{"x":{"field":"x1","type":"quantitative","scale":{"domain":[-0.5,279.2],"nice":false,"zero":false},"axis":{"title":null}},"x2":{"field":"x2"},"y":{"field":"p1","type":"quantitative","scale":{"domain":[2.0162,2.04071],"nice":false,"zero":false},"axis":{"title":null}},"y2":{"field":"p2"}}},
{"data":{"name":"txt"},"transform":[{"filter":"indexof(['hdr','ord'],datum.k)>=0"}],"mark":{"type":"text","align":"left","baseline":"middle","fontSize":5.5,"font":"Liberation Sans"},"encoding":{"x":{"field":"i","type":"quantitative","scale":{"domain":[-0.5,279.2],"nice":false,"zero":false},"axis":{"title":null}},"y":{"field":"p","type":"quantitative","scale":{"domain":[2.0162,2.04071],"nice":false,"zero":false},"axis":{"title":null}},"text":{"field":"t"},"color":{"field":"k","type":"nominal","scale":{"domain":["hdr","ord","btn","lot","arr","sm","big","sup","wave","org","wht","grn","red","bigup","grn7","ttl","lbl","org2","cyan","pink"],"range":["#e8e8e8","#e8e8e8","#ffffff","#000000","#505050","#ffffff","#ffffff","#ffffff","#ffff00","#f08c28","#d0d0d0","#00d000","#ff2020","#00ff00","#00d000","#a8c8f0","#dcdcdc","#f08c28","#40c8c8","#e86a9a"]},"legend":null}}},
{"data":{"name":"txt"},"transform":[{"filter":"indexof(['lbl'],datum.k)>=0"}],"mark":{"type":"text","align":"right","baseline":"middle","fontSize":5.5,"font":"Liberation Sans"},"encoding":{"x":{"field":"i","type":"quantitative","scale":{"domain":[-0.5,279.2],"nice":false,"zero":false},"axis":{"title":null}},"y":{"field":"p","type":"quantitative","scale":{"domain":[2.0162,2.04071],"nice":false,"zero":false},"axis":{"title":null}},"text":{"field":"t"},"color":{"field":"k","type":"nominal","scale":{"domain":["hdr","ord","btn","lot","arr","sm","big","sup","wave","org","wht","grn","red","bigup","grn7","ttl","lbl","org2","cyan","pink"],"range":["#e8e8e8","#e8e8e8","#ffffff","#000000","#505050","#ffffff","#ffffff","#ffffff","#ffff00","#f08c28","#d0d0d0","#00d000","#ff2020","#00ff00","#00d000","#a8c8f0","#dcdcdc","#f08c28","#40c8c8","#e86a9a"]},"legend":null}}},
{"data":{"name":"txt"},"transform":[{"filter":"indexof(['sm','org2','arr'],datum.k)>=0"}],"mark":{"type":"text","align":"center","baseline":"middle","fontSize":5.5,"font":"Liberation Sans"},"encoding":{"x":{"field":"i","type":"quantitative","scale":{"domain":[-0.5,279.2],"nice":false,"zero":false},"axis":{"title":null}},"y":{"field":"p","type":"quantitative","scale":{"domain":[2.0162,2.04071],"nice":false,"zero":false},"axis":{"title":null}},"text":{"field":"t"},"color":{"field":"k","type":"nominal","scale":{"domain":["hdr","ord","btn","lot","arr","sm","big","sup","wave","org","wht","grn","red","bigup","grn7","ttl","lbl","org2","cyan","pink"],"range":["#e8e8e8","#e8e8e8","#ffffff","#000000","#505050","#ffffff","#ffffff","#ffffff","#ffff00","#f08c28","#d0d0d0","#00d000","#ff2020","#00ff00","#00d000","#a8c8f0","#dcdcdc","#f08c28","#40c8c8","#e86a9a"]},"legend":null}}},
{"data":{"name":"txt"},"transform":[{"filter":"indexof(['lot','sup','wht','grn','red'],datum.k)>=0"}],"mark":{"type":"text","align":"center","baseline":"middle","fontSize":6,"font":"Liberation Sans"},"encoding":{"x":{"field":"i","type":"quantitative","scale":{"domain":[-0.5,279.2],"nice":false,"zero":false},"axis":{"title":null}},"y":{"field":"p","type":"quantitative","scale":{"domain":[2.0162,2.04071],"nice":false,"zero":false},"axis":{"title":null}},"text":{"field":"t"},"color":{"field":"k","type":"nominal","scale":{"domain":["hdr","ord","btn","lot","arr","sm","big","sup","wave","org","wht","grn","red","bigup","grn7","ttl","lbl","org2","cyan","pink"],"range":["#e8e8e8","#e8e8e8","#ffffff","#000000","#505050","#ffffff","#ffffff","#ffffff","#ffff00","#f08c28","#d0d0d0","#00d000","#ff2020","#00ff00","#00d000","#a8c8f0","#dcdcdc","#f08c28","#40c8c8","#e86a9a"]},"legend":null}}},
{"data":{"name":"txt"},"transform":[{"filter":"indexof(['btn'],datum.k)>=0"}],"mark":{"type":"text","align":"center","baseline":"middle","fontSize":6.5,"fontWeight":"bold","font":"Liberation Sans"},"encoding":{"x":{"field":"i","type":"quantitative","scale":{"domain":[-0.5,279.2],"nice":false,"zero":false},"axis":{"title":null}},"y":{"field":"p","type":"quantitative","scale":{"domain":[2.0162,2.04071],"nice":false,"zero":false},"axis":{"title":null}},"text":{"field":"t"},"color":{"field":"k","type":"nominal","scale":{"domain":["hdr","ord","btn","lot","arr","sm","big","sup","wave","org","wht","grn","red","bigup","grn7","ttl","lbl","org2","cyan","pink"],"range":["#e8e8e8","#e8e8e8","#ffffff","#000000","#505050","#ffffff","#ffffff","#ffffff","#ffff00","#f08c28","#d0d0d0","#00d000","#ff2020","#00ff00","#00d000","#a8c8f0","#dcdcdc","#f08c28","#40c8c8","#e86a9a"]},"legend":null}}},
{"data":{"name":"txt"},"transform":[{"filter":"indexof(['org','ttl','cyan','pink','grn7'],datum.k)>=0"}],"mark":{"type":"text","align":"center","baseline":"middle","fontSize":7,"font":"Liberation Sans"},"encoding":{"x":{"field":"i","type":"quantitative","scale":{"domain":[-0.5,279.2],"nice":false,"zero":false},"axis":{"title":null}},"y":{"field":"p","type":"quantitative","scale":{"domain":[2.0162,2.04071],"nice":false,"zero":false},"axis":{"title":null}},"text":{"field":"t"},"color":{"field":"k","type":"nominal","scale":{"domain":["hdr","ord","btn","lot","arr","sm","big","sup","wave","org","wht","grn","red","bigup","grn7","ttl","lbl","org2","cyan","pink"],"range":["#e8e8e8","#e8e8e8","#ffffff","#000000","#505050","#ffffff","#ffffff","#ffffff","#ffff00","#f08c28","#d0d0d0","#00d000","#ff2020","#00ff00","#00d000","#a8c8f0","#dcdcdc","#f08c28","#40c8c8","#e86a9a"]},"legend":null}}},
{"data":{"name":"txt"},"transform":[{"filter":"indexof(['wave'],datum.k)>=0"}],"mark":{"type":"text","align":"center","baseline":"middle","fontSize":8,"font":"Liberation Sans"},"encoding":{"x":{"field":"i","type":"quantitative","scale":{"domain":[-0.5,279.2],"nice":false,"zero":false},"axis":{"title":null}},"y":{"field":"p","type":"quantitative","scale":{"domain":[2.0162,2.04071],"nice":false,"zero":false},"axis":{"title":null}},"text":{"field":"t"},"color":{"field":"k","type":"nominal","scale":{"domain":["hdr","ord","btn","lot","arr","sm","big","sup","wave","org","wht","grn","red","bigup","grn7","ttl","lbl","org2","cyan","pink"],"range":["#e8e8e8","#e8e8e8","#ffffff","#000000","#505050","#ffffff","#ffffff","#ffffff","#ffff00","#f08c28","#d0d0d0","#00d000","#ff2020","#00ff00","#00d000","#a8c8f0","#dcdcdc","#f08c28","#40c8c8","#e86a9a"]},"legend":null}}},
{"data":{"name":"txt"},"transform":[{"filter":"indexof(['bigup'],datum.k)>=0"}],"mark":{"type":"text","align":"center","baseline":"middle","fontSize":13,"fontWeight":"bold","font":"Liberation Sans"},"encoding":{"x":{"field":"i","type":"quantitative","scale":{"domain":[-0.5,279.2],"nice":false,"zero":false},"axis":{"title":null}},"y":{"field":"p","type":"quantitative","scale":{"domain":[2.0162,2.04071],"nice":false,"zero":false},"axis":{"title":null}},"text":{"field":"t"},"color":{"field":"k","type":"nominal","scale":{"domain":["hdr","ord","btn","lot","arr","sm","big","sup","wave","org","wht","grn","red","bigup","grn7","ttl","lbl","org2","cyan","pink"],"range":["#e8e8e8","#e8e8e8","#ffffff","#000000","#505050","#ffffff","#ffffff","#ffffff","#ffff00","#f08c28","#d0d0d0","#00d000","#ff2020","#00ff00","#00d000","#a8c8f0","#dcdcdc","#f08c28","#40c8c8","#e86a9a"]},"legend":null}}},
{"data":{"name":"txt"},"transform":[{"filter":"indexof(['big'],datum.k)>=0"}],"mark":{"type":"text","align":"center","baseline":"middle","fontSize":19,"font":"Liberation Sans"},"encoding":{"x":{"field":"i","type":"quantitative","scale":{"domain":[-0.5,279.2],"nice":false,"zero":false},"axis":{"title":null}},"y":{"field":"p","type":"quantitative","scale":{"domain":[2.0162,2.04071],"nice":false,"zero":false},"axis":{"title":null}},"text":{"field":"t"},"color":{"field":"k","type":"nominal","scale":{"domain":["hdr","ord","btn","lot","arr","sm","big","sup","wave","org","wht","grn","red","bigup","grn7","ttl","lbl","org2","cyan","pink"],"range":["#e8e8e8","#e8e8e8","#ffffff","#000000","#505050","#ffffff","#ffffff","#ffffff","#ffff00","#f08c28","#d0d0d0","#00d000","#ff2020","#00ff00","#00d000","#a8c8f0","#dcdcdc","#f08c28","#40c8c8","#e86a9a"]},"legend":null}}},
{"data":{"name":"levels"},"transform":[{"filter":"datum.k=='bid'"}],"mark":{"type":"rect","color":"#e8e8e8"},"encoding":{"x":{"datum":279.9,"type":"quantitative","scale":{"domain":[-0.5,279.2],"nice":false,"zero":false},"axis":{"title":null}},"x2":{"datum":289.0},"y":{"datum":2.03372,"type":"quantitative","scale":{"domain":[2.0162,2.04071],"nice":false,"zero":false},"axis":{"title":null}},"y2":{"datum":2.03300}}},
{"data":{"name":"levels"},"transform":[{"filter":"datum.k=='bid'"}],"mark":{"type":"text","align":"left","baseline":"middle","fontSize":5,"font":"Liberation Sans","color":"#000000"},"encoding":{"x":{"datum":280.1,"type":"quantitative","scale":{"domain":[-0.5,279.2],"nice":false,"zero":false},"axis":{"title":null}},"y":{"field":"p","type":"quantitative","scale":{"domain":[2.0162,2.04071],"nice":false,"zero":false},"axis":{"title":null}},"text":{"field":"p","format":".5f"}}}
]},
{"width":603,"height":56,
"layer":[
{"data":{"name":"bars"},"transform":[{"window":[{"op":"lag","field":"ao","as":"prev"}],"sort":[{"field":"i"}]}],"mark":{"type":"rule","strokeWidth":1},"encoding":{
"x":{"field":"i","type":"quantitative","scale":{"domain":[-0.5,279.2],"nice":false,"zero":false},"axis":{"orient":"bottom","values":[0,8,16,24,32,40,48,56,64,72,80,88,96,104,112,120,128,136,144,152,160,168,176,184,192,200,208,216,224,232,240,248,256,264,272],"labels":false,"ticks":false,"grid":true,"title":null}},
"y":{"field":"ao","type":"quantitative","scale":{"domain":[-0.011546,0.004748],"nice":false,"zero":false},"axis":{"orient":"right","values":[-0.011546,0,0.004748],"labelExpr":"datum.value==0?'0.00':format(datum.value,'.6f')","labelFlush":true,"labelOverlap":false,"labelSeparation":-200,"title":null,"grid":true,"gridOpacity":{"condition":{"test":"datum.value==0","value":0.85},"value":0}}},
"y2":{"datum":0},
"color":{"condition":{"test":"datum.ao>datum.prev","value":"#009000"},"value":"#e00000"}}},
{"data":{"name":"ind"},"transform":[{"filter":"datum.w=='ao'"}],"mark":{"type":"text","align":"left","baseline":"middle","fontSize":5.5,"font":"Liberation Sans","color":"#e8e8e8"},"encoding":{"x":{"field":"i","type":"quantitative","scale":{"domain":[-0.5,279.2],"nice":false,"zero":false},"axis":{"title":null}},"y":{"field":"v","type":"quantitative","scale":{"domain":[-0.011546,0.004748],"nice":false,"zero":false},"axis":{"title":null}},"text":{"field":"t"}}}
]},
{"width":603,"height":45,
"layer":[
{"data":{"name":"bars"},"transform":[{"window":[{"op":"lag","field":"ac","as":"prev"}],"sort":[{"field":"i"}]}],"mark":{"type":"rule","strokeWidth":1},"encoding":{
"x":{"field":"i","type":"quantitative","scale":{"domain":[-0.5,279.2],"nice":false,"zero":false},"axis":{"orient":"bottom","values":[0,8,16,24,32,40,48,56,64,72,80,88,96,104,112,120,128,136,144,152,160,168,176,184,192,200,208,216,224,232,240,248,256,264,272],"grid":true,"title":null,"tickSize":2,"tickOpacity":{"condition":{"test":"datum.value % 16 == 0 && datum.value <= 208","value":1},"value":0},"labelExpr":"datum.value % 16 == 0 && datum.value <= 208 ? ['29 Dec 2015','29 Dec 18:45','29 Dec 22:45','30 Dec 02:45','30 Dec 06:45','30 Dec 10:45','30 Dec 14:45','30 Dec 19:45','30 Dec 23:45','31 Dec 03:45','31 Dec 07:45','31 Dec 11:45','31 Dec 15:45','31 Dec 19:45'][datum.value/16] : ''","labelAlign":"left","labelOverlap":false,"labelSeparation":-200,"labelBound":false,"labelPadding":1}},
"y":{"field":"ac","type":"quantitative","scale":{"domain":[-0.0019,0.003765],"nice":false,"zero":false},"axis":{"orient":"right","values":[-0.0019,0,0.003765],"labelExpr":"datum.value==0?'0.00':format(datum.value,'.6f')","labelFlush":true,"labelOverlap":false,"labelSeparation":-200,"title":null,"grid":true,"gridOpacity":{"condition":{"test":"datum.value==0","value":0.85},"value":0}}},
"y2":{"datum":0},
"color":{"condition":{"test":"datum.ac>datum.prev","value":"#009000"},"value":"#e00000"}}},
{"data":{"name":"ind"},"transform":[{"filter":"datum.w=='ac'"}],"mark":{"type":"text","align":"left","baseline":"middle","fontSize":5.5,"font":"Liberation Sans","color":"#e8e8e8"},"encoding":{"x":{"field":"i","type":"quantitative","scale":{"domain":[-0.5,279.2],"nice":false,"zero":false},"axis":{"title":null}},"y":{"field":"v","type":"quantitative","scale":{"domain":[-0.0019,0.003765],"nice":false,"zero":false},"axis":{"title":null}},"text":{"field":"t"}}}
]}
]
}
